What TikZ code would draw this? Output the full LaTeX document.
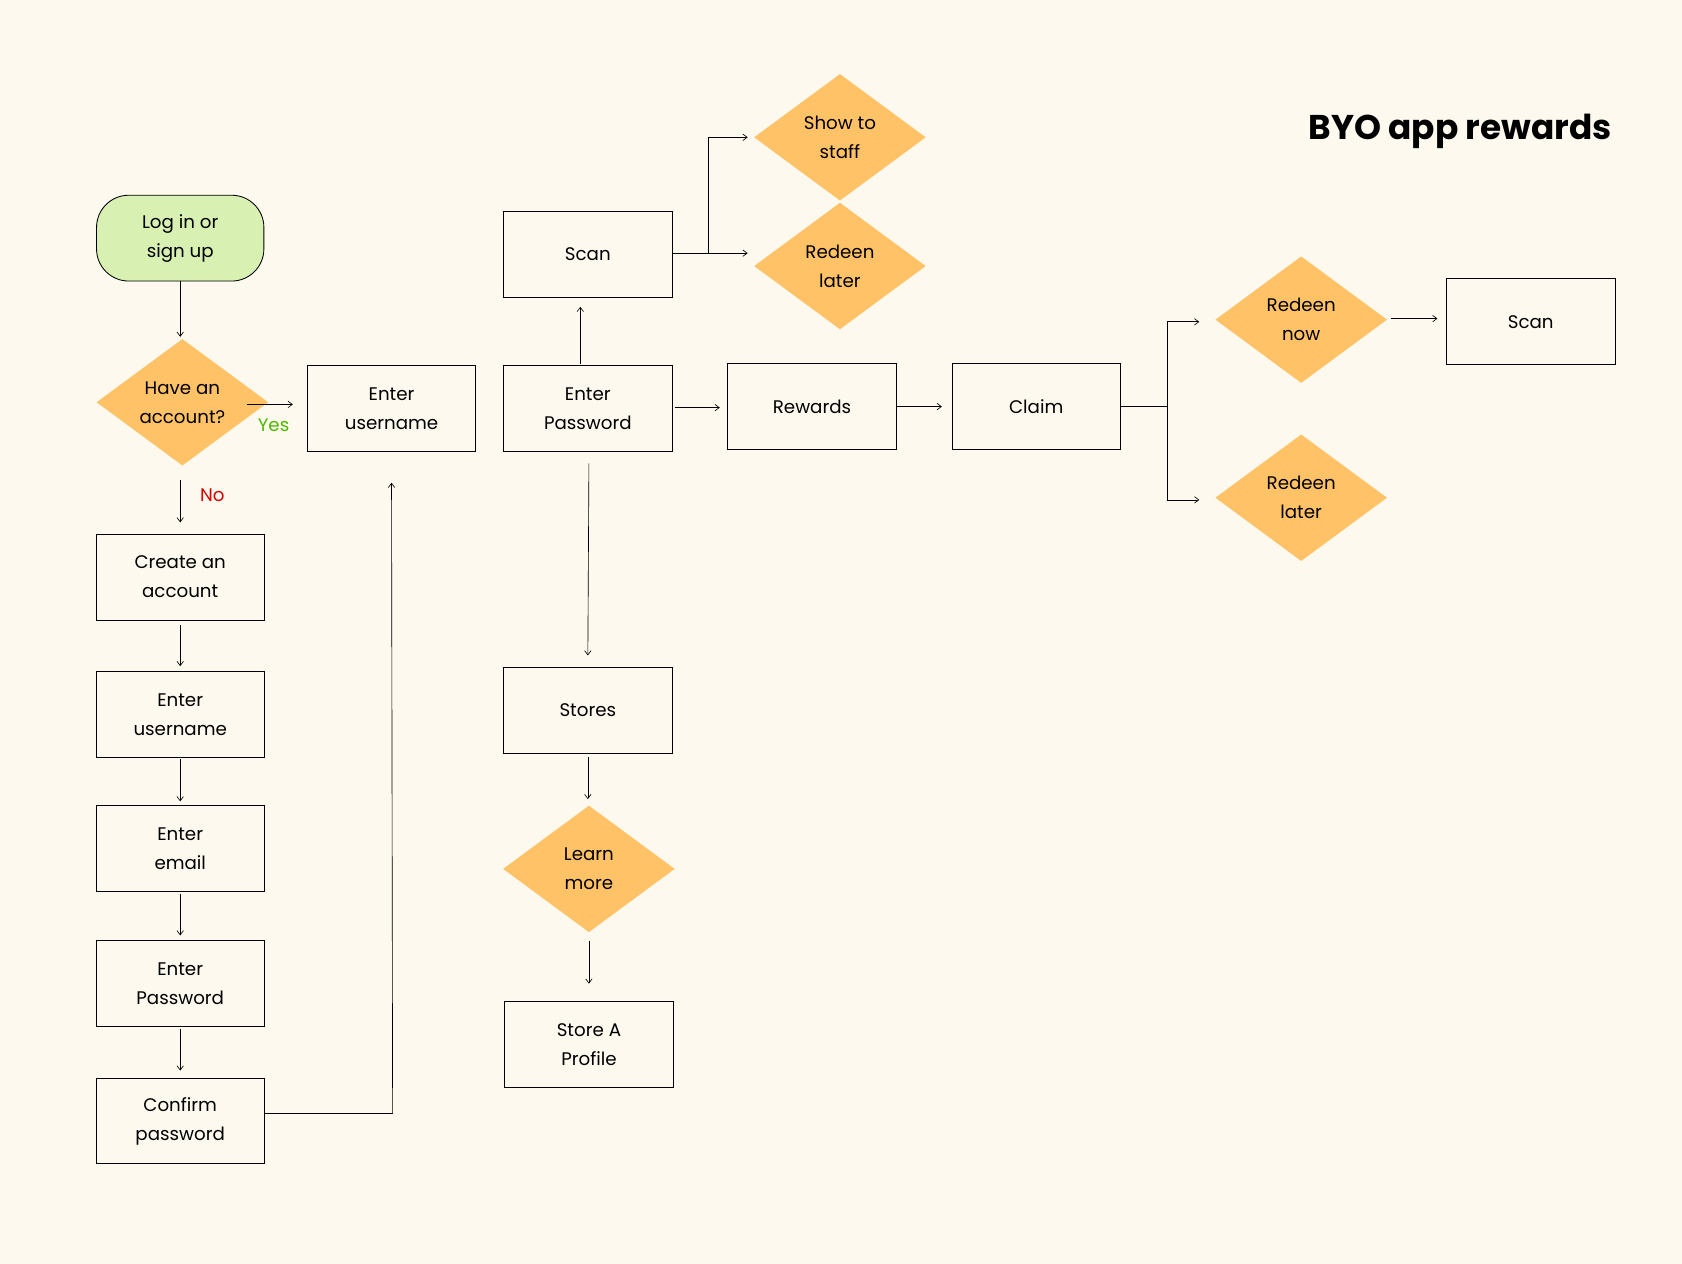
\documentclass[tikz,border=0pt]{standalone}
\usepackage{fontspec}
\setmainfont{Poppins}
\usetikzlibrary{shapes.geometric,arrows.meta}
\definecolor{bg}{HTML}{FDF9EE}
\definecolor{dia}{HTML}{FFC266}
\definecolor{grn}{HTML}{D8F1B3}
\begin{document}
\begin{tikzpicture}[x=1pt,y=-1pt,
 box/.style={draw=black,line width=0.8pt,minimum width=157pt,minimum height=80pt,align=center,font=\fontsize{17}{27}\selectfont},
 dmd/.style={diamond,fill=dia,minimum width=160pt,minimum height=118pt,aspect=1.36,inner sep=0pt,align=center,font=\fontsize{17}{27}\selectfont},
 ar/.style={-{Straight Barb[length=4pt,width=6pt]},line width=0.6pt},
 ln/.style={line width=0.6pt}]
\fill[bg] (0,0) rectangle (1568,1178);
\useasboundingbox (0,0) rectangle (1568,1178);
\node[anchor=east,font=\bfseries\fontsize{32}{36}\selectfont] (title) at (1506,122) {BYO app rewards};
\node[box,fill=grn,rounded corners=30pt,minimum width=156pt] (login) at (168,222) {Log in or\\sign up};
\node[dmd] (have) at (170,375) {Have an\\account?};
\node[box] (eu1) at (365,381) {Enter\\username};
\node[text=green!55!black!60!lime,font=\fontsize{17}{20}\selectfont] (yes) at (255,396) {Yes};
\node[text=red!85!black,font=\fontsize{17}{20}\selectfont] (no) at (198,462) {No};
\node[box] (create) at (168,538) {Create an\\account};
\node[box] (eu2) at (168,666) {Enter\\username};
\node[box] (email) at (168,791) {Enter\\email};
\node[box] (pw) at (168,917) {Enter\\Password};
\node[box] (conf) at (168,1045) {Confirm\\password};
\node[box] (scan1) at (548,237) {Scan};
\node[box] (epw) at (548,381) {Enter\\Password};
\node[dmd] (show) at (783,128) {Show to\\staff};
\node[dmd] (rl1) at (783,248) {Redeen\\later};
\node[box] (rew) at (757,379) {Rewards};
\node[box] (claim) at (966,379) {Claim};
\node[dmd] (rn) at (1213,298) {Redeen\\now};
\node[dmd] (rl2) at (1213,464) {Redeen\\later};
\node[box] (scan2) at (1427,300) {Scan};
\node[box] (stores) at (548,662) {Stores};
\node[dmd] (learn) at (549,810) {Learn\\more};
\node[box] (prof) at (549,974) {Store A\\Profile};
\coordinate (a1) at (230,377); \coordinate (a2) at (273,377);
\draw[ar] (login.south) -- (168,314);
\draw[ar] (a1) -- (a2);
\draw[ar] (168,447) -- (168,487);
\draw[ar] (168,583) -- (168,621);
\draw[ar] (168,708) -- (168,747);
\draw[ar] (168,833) -- (168,872);
\draw[ar] (168,959) -- (168,998);
\draw[ar] (conf.east|-0,1038) -- (366,1038) -- (365,450);
\draw[ar] (541,339) -- (541,286);
\draw[ar] (scan1.east|-0,236) -- (697,236);
\draw[ar] (660,236) -- (660,128) -- (697,128);
\draw[ar] (629,380) -- (671,380);
\draw[ar] (rew.east) -- (878,379);
\draw[ln] (claim.east) -- (1088,379);
\draw[ar] (1088,466) -- (1088,300) -- (1118,300);
\draw[ar] (1088,466) -- (1118,466);
\draw[ar] (1297,297) -- (1340,297);
\draw[ar] (549,432) -- (548,611);
\draw[ar] (548,706) -- (548,745);
\draw[ar] (549,877) -- (549,917);
\end{tikzpicture}
\end{document}
